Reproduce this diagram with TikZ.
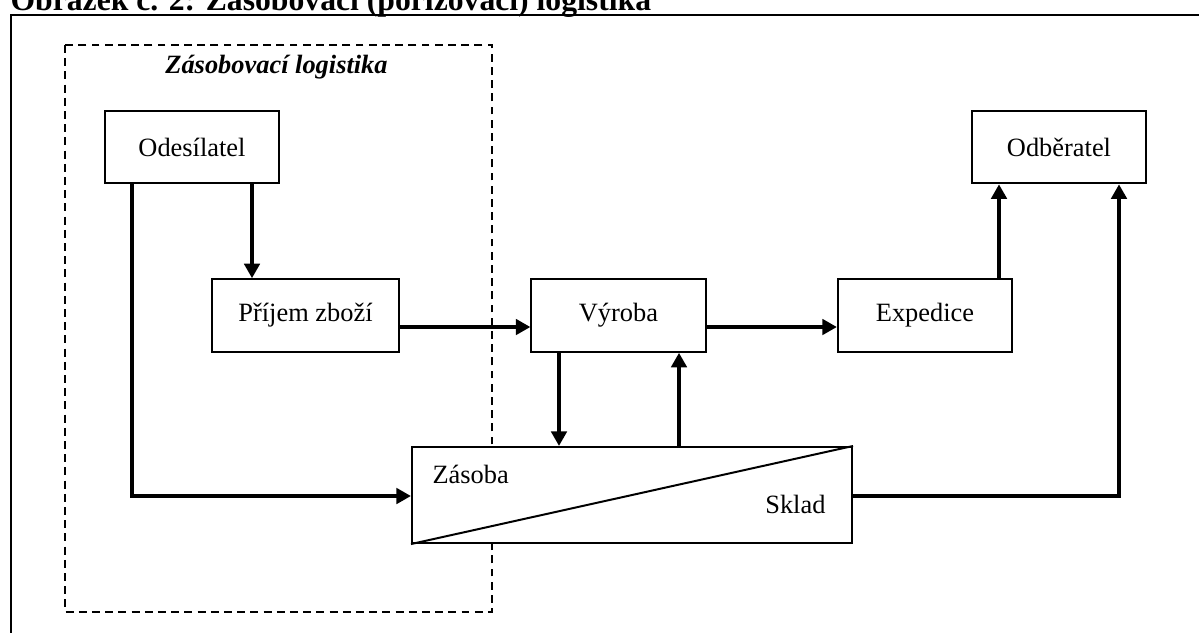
\documentclass[tikz,border=0pt]{standalone}
\usepackage{fontspec}
\setmainfont{Liberation Serif}
\usetikzlibrary{arrows.meta}
\begin{document}
\begin{tikzpicture}[x=0.3788pt,y=-0.3788pt,
  box/.style={draw,line width=0.75pt,fill=white,inner sep=0pt,
    minimum width=66pt,minimum height=27.5pt,font=\fontsize{10}{12}\selectfont},
  flow/.style={line width=1.8pt,-{Triangle[length=5.5pt,width=5.8pt]}},
  lbl/.style={inner sep=0pt,font=\fontsize{10}{12}\selectfont}]
\useasboundingbox (0,0) rectangle (1199,632);
\clip (0,0) rectangle (1199,632);
% caption and outer frame
\node[anchor=base west,inner sep=0pt,font=\fontsize{12}{14}\selectfont\bfseries] (title) at (10,10)
  {Obrázek č. 2: Zásobovací (pořizovací) logistika};
\draw[line width=1.1pt] (11,700) -- (11,15) -- (1260,15);
% procurement area
\draw[line width=0.6pt,dash pattern=on 3pt off 2pt] (65,45) rectangle (492,612);
\node[anchor=base,lbl,font=\fontsize{10}{12}\selectfont\bfseries\itshape] (area) at (276.5,73) {Zásobovací logistika};
% boxes
\node[box] (ode) at (192,147) {Odesílatel};
\node[box,minimum width=70.8pt] (pri) at (305.5,315.5) {Příjem zboží};
\node[box] (vyr) at (618.5,315.5) {Výroba};
\node[box] (exp) at (925,315.5) {Expedice};
\node[box] (odb) at (1059,147) {Odběratel};
\node[box,minimum width=166.7pt,minimum height=36.4pt] (sklad) at (632,495) {};
\draw[line width=0.75pt] (sklad.south west) -- (sklad.north east);
\node[lbl,anchor=base west] (zas) at (432,483) {Zásoba};
\node[lbl,anchor=base east] (skl) at (826,513) {Sklad};
% connectors
\draw[flow] (ode.south -| 252,0) -- (pri.north -| 252,0);
\draw[flow] (ode.south -| 132,0) |- (sklad.west |- 0,496);
\draw[flow] (pri.east |- 0,327) -- (vyr.west |- 0,327);
\draw[flow] (vyr.east |- 0,327) -- (exp.west |- 0,327);
\draw[flow] (vyr.south -| 559,0) -- (sklad.north -| 559,0);
\draw[flow] (sklad.north -| 679,0) -- (vyr.south -| 679,0);
\draw[flow] (exp.north -| 999,0) -- (odb.south -| 999,0);
\draw[flow] (sklad.east |- 0,496) -| (odb.south -| 1119,0);
\end{tikzpicture}
\end{document}
